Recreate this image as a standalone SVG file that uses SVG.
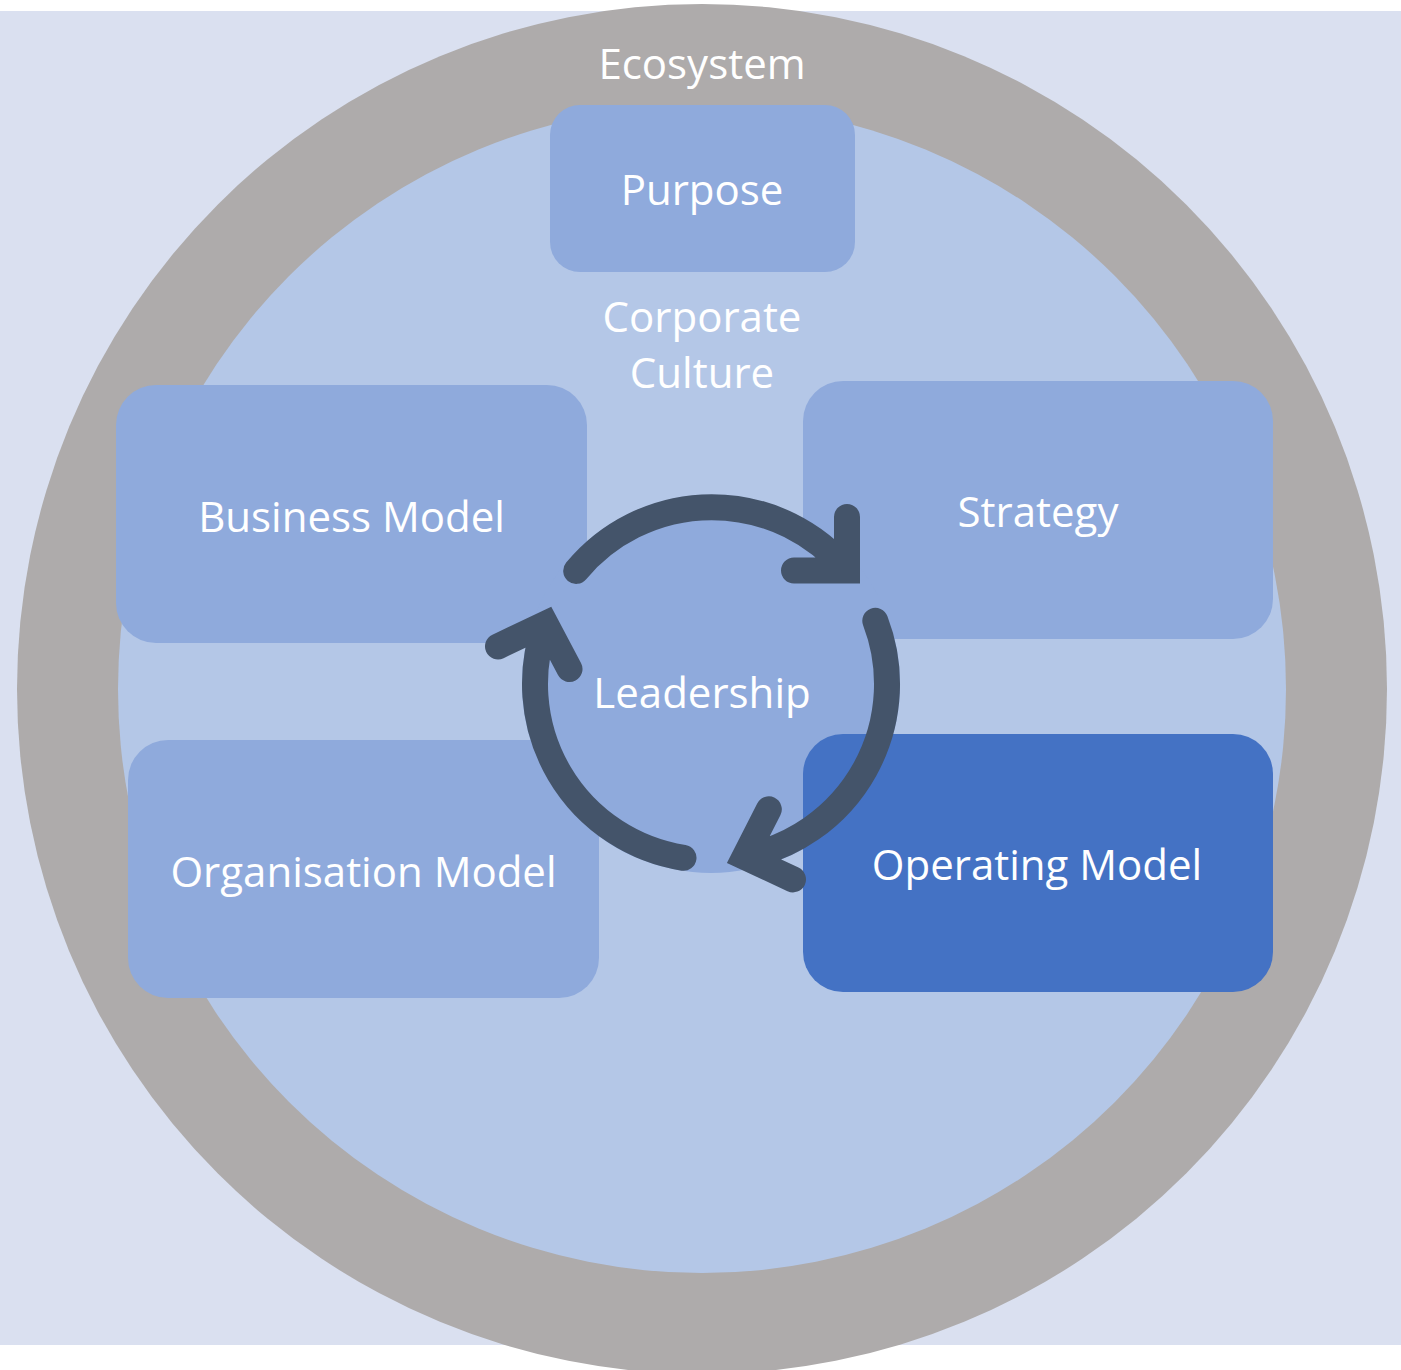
<svg xmlns="http://www.w3.org/2000/svg" width="1401" height="1370" viewBox="0 0 1401 1370">
  <defs>
    <style>
      .lbl { font-family: "Open Sans", "Noto Sans", "Liberation Sans", sans-serif; font-size: 42px; fill: #FFFFFF; text-anchor: middle; }
      .box { fill: #8FAADC; }
      .box-dark { fill: #4472C4; }
      .arrow { fill: none; stroke: #44546A; stroke-width: 26; stroke-linecap: round; stroke-linejoin: miter; }
    </style>
  </defs>
  <rect x="0" y="0" width="1401" height="1370" fill="#FFFFFF"/>
  <rect x="0" y="11" width="1401" height="1334" fill="#DAE0F0"/>

  <g id="ecosystem">
    <circle cx="702" cy="689" r="685" fill="#AEABAB"/>
    <text class="lbl" x="702" y="79">Ecosystem</text>
  </g>

  <g id="corporate-culture">
    <circle cx="702" cy="689" r="584" fill="#B4C7E7"/>
    <text class="lbl" x="702" y="332">Corporate</text>
    <text class="lbl" x="702" y="388">Culture</text>
  </g>

  <g id="purpose">
    <rect class="box" x="550" y="105" width="305" height="167" rx="30" ry="30"/>
    <text class="lbl" x="702" y="205">Purpose</text>
  </g>

  <g id="business-model">
    <rect class="box" x="116" y="385" width="471" height="258" rx="40" ry="40"/>
    <text class="lbl" x="351.5" y="532">Business Model</text>
  </g>

  <g id="strategy">
    <rect class="box" x="803" y="381" width="470" height="258" rx="40" ry="40"/>
    <text class="lbl" x="1038" y="527">Strategy</text>
  </g>

  <g id="organisation-model">
    <rect class="box" x="128" y="740" width="471" height="258" rx="40" ry="40"/>
    <text class="lbl" x="363.5" y="887">Organisation Model</text>
  </g>

  <g id="leadership">
    <circle cx="711" cy="684" r="189" fill="#8FAADC"/>
    <text class="lbl" x="702" y="708">Leadership</text>
  </g>

  <g id="operating-model">
    <rect class="box-dark" x="803" y="734" width="470" height="258" rx="40" ry="40"/>
    <text class="lbl" x="1037" y="880">Operating Model</text>
  </g>

  <g id="connectors">
    <path class="arrow" d="M 576.2 570.9 A 176 176 0 0 1 847 570.5 M 847 517 L 847 570.5 L 794 570.5"/>
    <path class="arrow" d="M 875.3 620.9 A 176 176 0 0 1 744.6 856.8 M 768.8 809.4 L 744.6 856.8 L 793 879.4"/>
    <path class="arrow" d="M 683.5 857.8 A 176 176 0 0 1 545.6 623.8 M 498 646.4 L 545.6 623.8 L 569.5 669"/>
  </g>
</svg>
